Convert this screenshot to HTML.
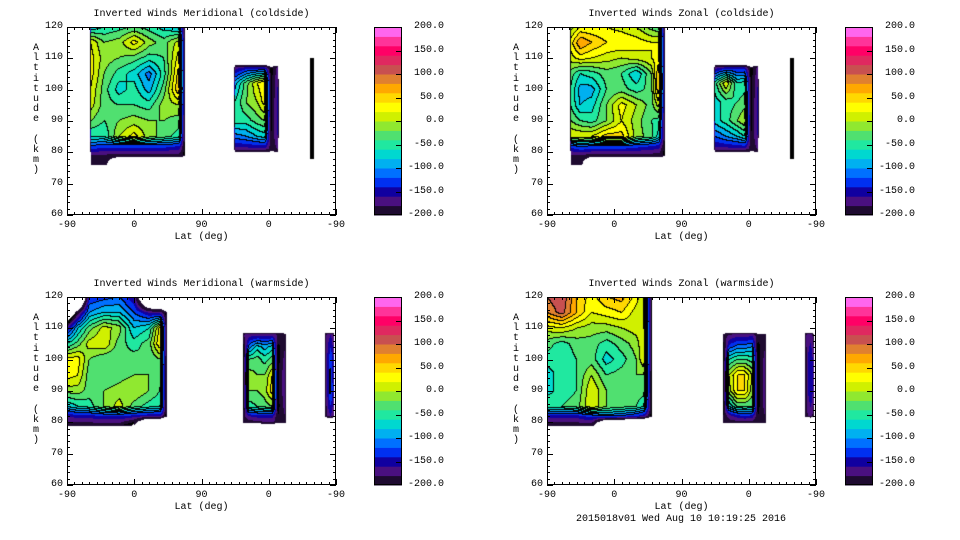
<!DOCTYPE html>
<html><head><meta charset="utf-8">
<style>
body{margin:0;background:#fff;width:960px;height:540px;overflow:hidden;position:relative;font-family:"Liberation Mono",monospace;font-size:10px;color:#000}
.t{position:absolute;white-space:pre;line-height:10px}
canvas,svg{position:absolute}
</style></head><body>
<div id="root"></div>
<script>
// ---- shared axis data ----
const xTickLabels = ['-90','0','90','0','-90'];
const xTickUnits = [0,90,180,270,360];
const yTicks = [60,70,80,90,100,110,120];
const cbTicks = [200,150,100,50,0,-50,-100,-150,-200];
const levelColors = ['#1e0a30','#4a1080','#1000a0','#0030f0','#0070ff','#00b0f0','#00d8d0','#20e8a0','#50e070','#90e830','#d0f000','#ffff00','#ffd800','#ffa800','#e08030','#c85050','#e02860','#ff0066','#ff3399','#ff66ee'];

// ---- Meridional coldside ----
const tlA_u = [32,50,70,90,110,130,150,158];
const tlA_alt = [120,115,110,105,100,95,90,85,82,79,76];
const tlA_vals = [
[-80,-60,-50,-40,-50,-70,-90,-210],
[20,-20,-10,30,-10,-30,10,-210],
[30,-10,-20,-30,-50,-40,30,-210],
[30,-20,-50,-70,-110,-50,50,-210],
[20,-30,-70,-50,-90,-30,60,-210],
[10,-30,-40,-40,-50,-10,0,-210],
[-20,-40,-20,-10,-20,-20,-30,-210],
[-60,-60,0,30,-10,-30,-50,-210],
[-120,-130,-130,-130,-130,-130,-140,-210],
[-185,-185,-190,-190,-190,-190,-190,-210],
[-195,-195,-400,-400,-400,-400,-400,-400]];
const tlB_u = [225,240,255,265,273,282];
const tlB_alt = [107,102,96,90,85,81];
const tlB_vals = [
[-170,-150,-150,-150,-210,-170],
[-90,-30,20,40,-210,-160],
[-60,-20,0,30,-210,-150],
[-50,-50,-30,-20,-210,-150],
[-110,-100,-80,-70,-200,-160],
[-170,-170,-170,-170,-190,-180]];
const tlC_u = [325,328,331];
const tlC_alt = [110,94,78];
const tlC_vals = [[-212,-212,-212],[-210,-205,-210],[-212,-212,-212]];

// ---- Zonal coldside ----
const trA_u = [32,45,60,80,100,120,140,150,158];
const trA_alt = [120,115,110,105,100,95,90,85,82,79,76];
const trA_vals = [
[-10,20,20,20,10,0,-30,-40,-210],
[30,80,60,40,40,30,20,20,-210],
[10,30,20,10,0,10,20,30,-210],
[-30,-60,-50,-30,-40,-80,-20,60,-210],
[-40,-90,-90,-40,-30,-50,-30,60,-210],
[-40,-80,-70,-20,30,0,-30,10,-210],
[-20,-40,-50,-20,20,-10,-40,-50,-210],
[20,20,20,50,50,-10,-30,-70,-210],
[-130,-110,-120,-120,-120,-130,-140,-150,-210],
[-185,-185,-190,-190,-190,-190,-190,-190,-210],
[-195,-195,-400,-400,-400,-400,-400,-400,-400]];
const trB_u = [225,240,255,265,273,282];
const trB_alt = [107,102,96,90,85,81];
const trB_vals = [
[-170,-150,-150,-150,-210,-170],
[-50,20,-60,-50,-210,-160],
[-70,-50,-40,-30,-210,-150],
[-70,-50,-20,0,-210,-150],
[-120,-100,-80,-60,-200,-160],
[-170,-170,-170,-170,-190,-180]];
const trC_u = [325,328,331];
const trC_alt = [110,94,78];
const trC_vals = [[-212,-212,-212],[-210,-205,-210],[-212,-212,-212]];

// ---- Meridional warmside ----
const blA_u = [0,15,30,50,70,90,110,125,133,140];
const blA_alt = [120,115,110,105,100,95,90,85,82,79];
const blA_vals = [
[-400,-400,-140,-130,-120,-160,-400,-400,-400,-400],
[-300,-190,-100,-80,-80,-120,-160,-170,-210,-400],
[-160,-80,-30,10,-10,-80,-60,30,-210,-400],
[-60,-30,10,20,-30,-50,-30,40,-210,-400],
[30,30,-20,-40,-40,-30,-40,-20,-210,-400],
[30,20,-30,-40,-30,-20,-20,-30,-210,-400],
[-10,-10,-30,-20,-10,0,-20,-40,-210,-400],
[-80,-60,-50,-20,10,-30,-50,-60,-210,-400],
[-160,-150,-150,-140,-140,-150,-160,-160,-210,-400],
[-195,-195,-195,-195,-195,-230,-400,-400,-400,-400]];
const blB_u = [236,244,255,265,275,282,292];
const blB_alt = [108,104,100,95,90,85,82,80];
const blB_vals = [
[-180,-170,-170,-170,-170,-180,-190],
[-210,-110,-70,-90,-70,-210,-180],
[-210,-40,-30,-50,-30,-210,-170],
[-210,-10,-20,-20,20,-210,-160],
[-210,-20,-20,-10,30,-210,-160],
[-210,-50,-40,-30,-20,-210,-170],
[-190,-160,-150,-150,-150,-200,-180],
[-190,-190,-190,-180,-180,-190,-190]];
const blC_u = [345,349,353,357];
const blC_alt = [108,100,90,82];
const blC_vals = [
[-190,-170,-160,-180],
[-210,-150,-120,-160],
[-210,-150,-110,-160],
[-200,-170,-160,-180]];

// ---- Zonal warmside ----
const brA_u = [0,20,40,60,80,100,120,130,140];
const brA_alt = [120,115,110,105,100,95,90,85,82,79];
const brA_vals = [
[100,120,60,30,60,70,30,0,-210],
[80,110,60,20,30,40,10,0,-210],
[10,20,0,-10,-10,0,10,10,-210],
[-30,-50,-30,-30,-50,-30,-10,20,-210],
[-50,-60,-40,-30,-70,-50,-20,20,-210],
[-70,-50,-40,0,-40,-30,-20,-20,-210],
[-70,-50,-40,20,-20,-30,-30,-30,-210],
[-40,-40,-30,20,-20,-30,-40,-60,-210],
[-150,-150,-150,-130,-110,-120,-140,-160,-210],
[-195,-195,-195,-195,-400,-400,-400,-400,-400]];
const brB_u = [236,244,255,265,275,282,292];
const brB_alt = [108,104,100,95,90,85,82,80];
const brB_vals = [
[-190,-180,-170,-170,-170,-190,-190],
[-210,-130,-110,-110,-100,-210,-180],
[-210,-60,-40,-40,-50,-210,-170],
[-210,0,40,40,0,-210,-170],
[-210,-10,40,40,-10,-210,-170],
[-210,-80,-40,-40,-40,-210,-170],
[-200,-170,-150,-140,-150,-200,-180],
[-190,-190,-190,-190,-190,-190,-190]];
const brC_u = [345,349,353,357];
const brC_alt = [108,100,90,82];
const brC_vals = [
[-190,-170,-170,-190],
[-210,-160,-140,-170],
[-210,-160,-140,-170],
[-200,-180,-170,-190]];

const W = 269, H = 188, CBW = 28;
const root = document.getElementById('root');

function pad(us, alts, vals, p){
  let u = us.slice(), a = alts.slice(), v = vals.map(r=>r.slice());
  if(p.l){u.unshift(u[0]-p.l); v.forEach(r=>r.unshift(-400));}
  if(p.r){u.push(u[u.length-1]+p.r); v.forEach(r=>r.push(-400));}
  if(p.t){a.unshift(a[0]+p.t); v.unshift(u.map(()=>-400));}
  if(p.b){a.push(a[a.length-1]-p.b); v.push(u.map(()=>-400));}
  return {u:u, a:a, v:v};
}
function sample(b, u, alt){
  const us=b.u, as=b.a, v=b.v;
  if(u<us[0]||u>us[us.length-1]||alt>as[0]||alt<as[as.length-1]) return null;
  let i=0; while(i<us.length-2 && u>us[i+1]) i++;
  let j=0; while(j<as.length-2 && alt<as[j+1]) j++;
  const fx = us.length>1 ? (u-us[i])/(us[i+1]-us[i]) : 0;
  const fy = as.length>1 ? (as[j]-alt)/(as[j]-as[j+1]) : 0;
  const v00=v[j][i], v10=v[j][i+1], v01=v[j+1][i], v11=v[j+1][i+1];
  const edge = Math.min(v00,v10,v01,v11) <= -400;
  return {val: v00*(1-fx)*(1-fy)+v10*fx*(1-fy)+v01*(1-fx)*fy+v11*fx*fy, edge: edge};
}
function hex(c){return [parseInt(c.substr(1,2),16),parseInt(c.substr(3,2),16),parseInt(c.substr(5,2),16)];}
const rgb = levelColors.map(hex);
function xPos(u){return u/360*W;}
function yPos(a){return (120-a)/60*H;}

function addText(txt, x, y, align, name){
  const d=document.createElement('div');
  d.className='t'; d.textContent=txt;
  
  
  d.style.top=(y-5)+'px';
  if(align==='r'){d.style.right=(960-x)+'px';}
  else if(align==='c'){d.style.left=(x-200)+'px';d.style.width='400px';d.style.textAlign='center';}
  else d.style.left=x+'px';
  root.appendChild(d);
}

function panel(px, py, cbx, title, blocks){
  const cv=document.createElement('canvas');
  cv.width=W; cv.height=H;
  cv.style.left=px+'px'; cv.style.top=py+'px';
  
  
  root.appendChild(cv);
  const ctx=cv.getContext('2d');
  const img=ctx.createImageData(W,H);
  const lev=new Int16Array(W*H);
  for(let y=0;y<H;y++){
    for(let x=0;x<W;x++){
      const u=(x+0.5)/W*360, alt=120-(y+0.5)/H*60;
      let s=null;
      for(const b of blocks){const r=sample(b,u,alt); if(r!==null){s=r;break;}}
      let L=-1;
      if(s!==null){
        let val=s.val;
        if(s.edge){ if(val>=-225) val=Math.max(val,-199); else val=-999; }
        if(val>=-218){
          if(val<-200) L=20;
          else L=Math.max(0,Math.min(19,Math.floor((val+200)/20)));
        }
      }
      lev[y*W+x]=L;
    }
  }
  for(let y=0;y<H;y++){
    for(let x=0;x<W;x++){
      const L=lev[y*W+x]; const k=(y*W+x)*4;
      let c=[255,255,255];
      if(L===20) c=[0,0,0];
      else if(L>=0) c=rgb[L];
      if(L>=3 && L<20){
        const r= x<W-1?lev[y*W+x+1]:L, d= y<H-1?lev[(y+1)*W+x]:L;
        if((r>=3&&r<20&&r!==L)||(d>=3&&d<20&&d!==L)) c=[0,0,0];
      }
      img.data[k]=c[0];img.data[k+1]=c[1];img.data[k+2]=c[2];img.data[k+3]=255;
    }
  }
  ctx.putImageData(img,0,0);

  const ns='http://www.w3.org/2000/svg';
  const sv=document.createElementNS(ns,'svg');
  sv.setAttribute('width',W+1); sv.setAttribute('height',H+1);
  sv.style.left=px+'px'; sv.style.top=py+'px';
  
  
  let s='<rect x="0.5" y="0.5" width="'+(W-1)+'" height="'+(H-1)+'" fill="none" stroke="#000"/>';
  for(let u=0;u<=360;u+=10){
    const x=Math.round(xPos(u))+0.5, len=(u%90===0)?6:3;
    s+='<line x1="'+x+'" y1="'+H+'" x2="'+x+'" y2="'+(H-len)+'" stroke="#000"/>';
    s+='<line x1="'+x+'" y1="0" x2="'+x+'" y2="'+len+'" stroke="#000"/>';
  }
  for(let a=60;a<=120;a+=2){
    const y=Math.round(yPos(a))+0.5, len=(a%10===0)?6:3;
    s+='<line x1="0" y1="'+y+'" x2="'+len+'" y2="'+y+'" stroke="#000"/>';
    s+='<line x1="'+W+'" y1="'+y+'" x2="'+(W-len)+'" y2="'+y+'" stroke="#000"/>';
  }
  sv.innerHTML=s;
  root.appendChild(sv);

  addText(title, px+W/2, py-12, 'c', 'plot-title');
  xTickLabels.forEach((t,i)=>addText(t, px+xPos(xTickUnits[i]), py+H+11, 'c', 'x-tick-label'));
  yTicks.forEach(a=>addText(String(a), px-4, py+yPos(a), 'r', 'y-tick-label'));
  addText('Lat (deg)', px+W/2, py+H+23, 'c', 'x-axis-title');
  const yl=document.createElement('div');
  yl.className='t';
  
  
  yl.style.left=(px-34)+'px'; yl.style.top=(py+17)+'px';
  yl.style.lineHeight='10.2px'; yl.style.width='8px';
  yl.innerHTML='Altitude (km)'.split('').map(c=>c===' '?'&nbsp;':c).join('<br>');
  root.appendChild(yl);

  const cb=document.createElementNS(ns,'svg');
  cb.setAttribute('width',CBW+1); cb.setAttribute('height',H+1);
  cb.style.left=cbx+'px'; cb.style.top=py+'px';
  
  
  let cs='';
  const bh=H/levelColors.length;
  levelColors.forEach((c,i)=>{
    cs+='<rect x="0" y="'+(H-(i+1)*bh)+'" width="'+CBW+'" height="'+(bh+0.5)+'" fill="'+c+'"/>';
  });
  cbTicks.forEach(v=>{
    const y=Math.round((200-v)/400*H)+0.5;
    if(v>-200&&v<200) cs+='<line x1="'+(CBW-6)+'" y1="'+y+'" x2="'+CBW+'" y2="'+y+'" stroke="#000"/>';
  });
  cs+='<rect x="0.5" y="0.5" width="'+(CBW-1)+'" height="'+(H-1)+'" fill="none" stroke="#000"/>';
  cb.innerHTML=cs;
  root.appendChild(cb);
  cbTicks.forEach(v=>addText(v.toFixed(1), cbx+CBW+42, py+(200-v)/400*H, 'r', 'colorbar-label'));
}

panel(67,27,374,'Inverted Winds Meridional (coldside)',[
  pad(tlA_u,tlA_alt,tlA_vals,{l:2,r:2,b:1}),
  pad(tlB_u,tlB_alt,tlB_vals,{l:4,r:4,t:3,b:4}),
  pad(tlC_u,tlC_alt,tlC_vals,{})]);
panel(547,27,845,'Inverted Winds Zonal (coldside)',[
  pad(trA_u,trA_alt,trA_vals,{l:2,r:2,b:1}),
  pad(trB_u,trB_alt,trB_vals,{l:4,r:4,t:3,b:4}),
  pad(trC_u,trC_alt,trC_vals,{})]);
panel(67,297,374,'Inverted Winds Meridional (warmside)',[
  pad(blA_u,blA_alt,blA_vals,{b:1.5}),
  pad(blB_u,blB_alt,blB_vals,{l:2,r:3,t:2,b:2}),
  pad(blC_u,blC_alt,blC_vals,{l:2,r:2,t:2,b:2})]);
panel(547,297,845,'Inverted Winds Zonal (warmside)',[
  pad(brA_u,brA_alt,brA_vals,{r:2,b:1.5}),
  pad(brB_u,brB_alt,brB_vals,{l:2,r:3,t:2,b:2}),
  pad(brC_u,brC_alt,brC_vals,{l:2,r:2,t:2,b:2})]);
addText('2015018v01 Wed Aug 10 10:19:25 2016', 681, 520, 'c', 'timestamp-footer');
</script>
</body></html>
